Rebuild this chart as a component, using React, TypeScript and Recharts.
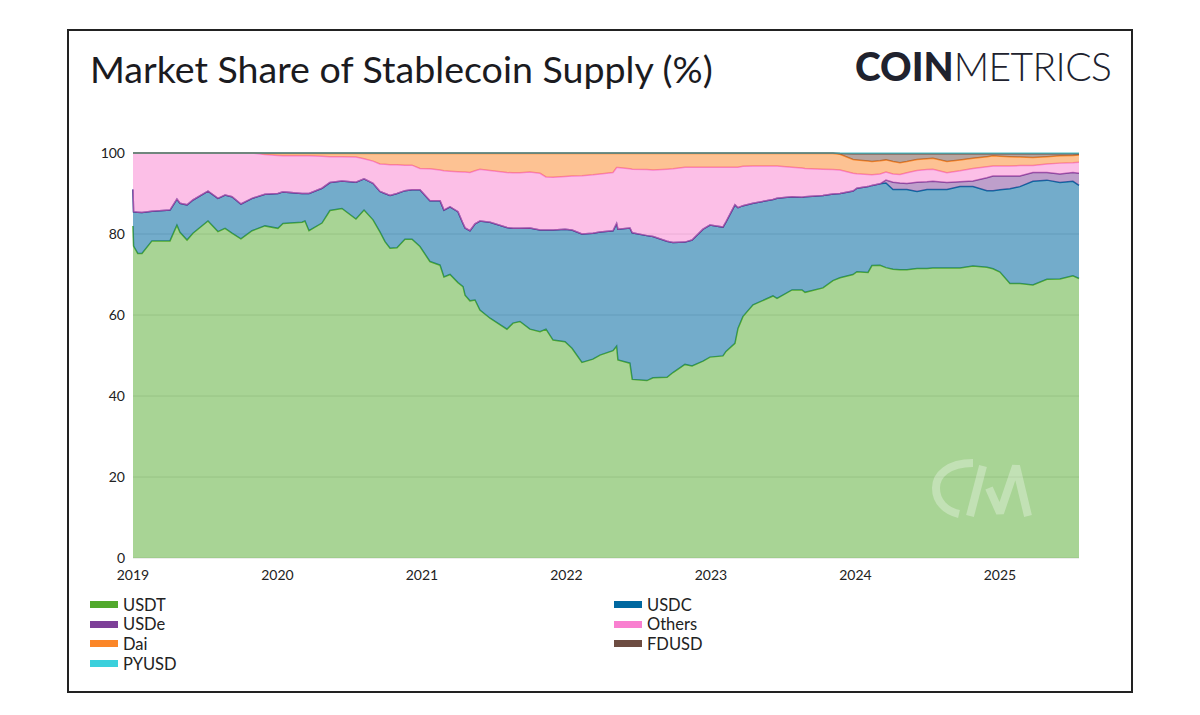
import React from "react";
import { Area, AreaChart, CartesianGrid, Legend, XAxis, YAxis } from "recharts";

const years = [
  2019.0, 2019.004, 2019.033, 2019.062, 2019.131, 2019.256, 2019.304, 2019.325, 2019.374, 2019.415, 2019.519, 2019.588, 2019.637, 2019.685, 2019.747, 2019.824, 2019.913,
  2020.003, 2020.038, 2020.17, 2020.19, 2020.218, 2020.308, 2020.363, 2020.446, 2020.543, 2020.599, 2020.661, 2020.709, 2020.744, 2020.779, 2020.827, 2020.882, 2020.931, 2020.986,
  2021.055, 2021.125, 2021.152, 2021.194, 2021.249, 2021.284, 2021.298, 2021.332, 2021.367, 2021.401, 2021.471, 2021.588, 2021.63, 2021.678, 2021.747, 2021.817, 2021.858, 2021.907, 2021.99,
  2022.038, 2022.107, 2022.183, 2022.232, 2022.322, 2022.347, 2022.356, 2022.439, 2022.455, 2022.557, 2022.599, 2022.696, 2022.737, 2022.82, 2022.869, 2022.945, 2022.993,
  2023.083, 2023.104, 2023.166, 2023.187, 2023.221, 2023.291, 2023.429, 2023.457, 2023.561, 2023.63, 2023.651, 2023.775, 2023.844, 2023.893, 2023.983,
  2024.01, 2024.087, 2024.114, 2024.17, 2024.211, 2024.26, 2024.308, 2024.356, 2024.426, 2024.495, 2024.536, 2024.633, 2024.723, 2024.813, 2024.91, 2024.952,
  2025.0, 2025.069, 2025.138, 2025.228, 2025.325, 2025.415, 2025.505, 2025.547,
];

const usdt = [
  82, 77, 75.2, 75.2, 78.3, 78.3, 82.2, 80.4, 78.5, 80.2, 83.2, 80.6, 81.4, 80.2, 78.8, 80.8, 82,
  81.4, 82.6, 82.9, 83.2, 80.8, 82.7, 85.8, 86.3, 83.7, 85.9, 83.5, 80.5, 78.1, 76.5, 76.6, 78.7, 78.7, 76.9,
  73.2, 72.3, 69.4, 70, 68, 67, 64.9, 63.5, 63.7, 61.2, 59.2, 56.5, 58, 58.4, 56.5, 55.9, 56.5, 53.8, 53.4,
  51.8, 48.3, 49.1, 50.1, 51.2, 52.3, 48.9, 48.1, 44.1, 43.8, 44.5, 44.6, 45.8, 47.8, 47.4, 48.6, 49.6,
  49.9, 51, 53, 56.7, 59.6, 62.5, 64.7, 64.1, 66.2, 66.2, 65.6, 66.7, 68.5, 69.2, 70,
  70.7, 70.5, 72.2, 72.3, 71.7, 71.3, 71.2, 71.2, 71.5, 71.5, 71.6, 71.6, 71.6, 72.1, 71.8, 71.4,
  70.6, 67.8, 67.8, 67.4, 68.8, 68.9, 69.7, 69,
];

const usdc = [
  9, 8.5, 10.2, 10.1, 7.3, 7.6, 6.4, 7.2, 8.7, 8.2, 7.4, 8.2, 8.2, 9, 8.6, 8, 7.8,
  8.6, 7.8, 7.1, 6.8, 9.2, 8.6, 6.9, 6.8, 9.1, 7.7, 9, 10, 11.9, 13, 13.4, 12, 12.2, 14,
  15, 15.9, 16.5, 16.7, 17.5, 15.6, 16.6, 17.3, 18.8, 22, 23.7, 25.1, 23.4, 23, 25, 25.1, 24.5, 27.2, 27.8,
  29.2, 31.7, 31.1, 30.4, 29.6, 30.3, 32.3, 33.4, 36.2, 35.8, 34.9, 33.6, 32.1, 30.2, 31.1, 32.6, 32.6,
  31.8, 32, 34.2, 29.8, 27.4, 25.1, 23.8, 24.7, 23, 22.9, 23.6, 22.8, 21.4, 20.8, 20.6,
  20.6, 21.2, 19.8, 20.1, 20.9, 19.7, 19.8, 19.8, 19, 19.5, 19.4, 19.4, 20.1, 19.6, 18.9, 19.3,
  20.3, 23.4, 23.9, 25.6, 24.5, 23.8, 23.3, 23,
];

const usde = [
  0, 0, 0, 0, 0, 0, 0, 0, 0, 0, 0, 0, 0, 0, 0, 0, 0,
  0, 0, 0, 0, 0, 0, 0, 0, 0, 0, 0, 0, 0, 0, 0, 0, 0, 0,
  0, 0, 0, 0, 0, 0, 0, 0, 0, 0, 0, 0, 0, 0, 0, 0, 0, 0, 0,
  0, 0, 0, 0, 0, 0, 0, 0, 0, 0, 0, 0, 0, 0, 0, 0, 0,
  0, 0, 0, 0, 0, 0, 0, 0, 0, 0, 0, 0, 0, 0, 0,
  0, 0, 0, 0, 0.7, 1.8, 1.6, 1.5, 2.3, 1.9, 2, 1.7, 1.2, 1.4, 3.2, 3.6,
  3.4, 3.1, 2.6, 2.2, 1.9, 2.1, 2.2, 3,
];

const others = [
  9, 14.5, 14.6, 14.7, 14.4, 14.1, 11.4, 12.4, 12.8, 11.6, 9.4, 11.2, 10.4, 10.8, 12.6, 11.2, 9.8,
  9.4, 8.9, 9.3, 9.3, 9.3, 7.9, 6.4, 6, 6.2, 5, 5.5, 6.8, 7.2, 7.6, 7.1, 6.3, 6.1, 5.3,
  7.9, 7.6, 9.7, 8.8, 9.9, 12.7, 13.8, 14.4, 13.1, 12.8, 12.8, 13.6, 13.7, 13.7, 13.8, 14, 13.1, 13, 13,
  13.3, 14.4, 14.4, 14.3, 14.4, 13.8, 15.2, 14.6, 15.7, 16.3, 16.4, 17.8, 18.2, 18.5, 18, 15.3, 14.3,
  14.8, 13.5, 9.3, 10, 9.7, 9.2, 8.3, 8, 7.3, 7.2, 7, 6.5, 6, 5.8, 4.4,
  3.6, 3, 2.6, 2.4, 2, 2, 2.1, 2.6, 2.9, 3, 3, 2.4, 2.7, 3.1, 2.7, 2.5,
  2.5, 2.5, 2.6, 1.7, 2.1, 2.7, 2.4, 2.7,
];

const dai = [
  0, 0, 0, 0, 0, 0, 0, 0, 0, 0, 0, 0, 0, 0, 0, 0, 0.3,
  0.5, 0.6, 0.6, 0.6, 0.6, 0.7, 0.8, 0.8, 0.9, 1.3, 1.9, 2.6, 2.7, 2.8, 2.8, 2.9, 2.9, 3.7,
  3.8, 4.1, 4.3, 4.4, 4.5, 4.6, 4.6, 4.7, 4.3, 3.9, 4.2, 4.7, 4.8, 4.8, 4.6, 4.9, 5.8, 5.9, 5.7,
  5.6, 5.5, 5.3, 5.1, 4.7, 3.5, 3.5, 3.8, 3.9, 4, 4.1, 3.9, 3.8, 3.4, 3.4, 3.4, 3.4,
  3.4, 3.4, 3.4, 3.4, 3.2, 3.1, 3.1, 3.1, 3.4, 3.6, 3.7, 3.9, 4, 3.9, 3.4,
  3.4, 3.3, 3.3, 3.3, 3, 3.1, 2.9, 2.8, 2.7, 2.7, 2.7, 2.8, 2.7, 2.5, 2.5, 2.5,
  2.4, 2.3, 2.1, 2, 1.8, 1.8, 1.8, 1.8,
];

const fdusd = [
  0, 0, 0, 0, 0, 0, 0, 0, 0, 0, 0, 0, 0, 0, 0, 0, 0.1,
  0.1, 0.1, 0.1, 0.1, 0.1, 0.1, 0.1, 0.1, 0.1, 0.1, 0.1, 0.1, 0.1, 0.1, 0.1, 0.1, 0.1, 0.1,
  0.1, 0.1, 0.1, 0.1, 0.1, 0.1, 0.1, 0.1, 0.1, 0.1, 0.1, 0.1, 0.1, 0.1, 0.1, 0.1, 0.1, 0.1, 0.1,
  0.1, 0.1, 0.1, 0.1, 0.1, 0.1, 0.1, 0.1, 0.1, 0.1, 0.1, 0.1, 0.1, 0.1, 0.1, 0.1, 0.1,
  0.1, 0.1, 0.1, 0.1, 0.1, 0.1, 0.1, 0.1, 0.1, 0.1, 0.1, 0.1, 0.1, 0.2, 1.4,
  1.5, 1.8, 1.9, 1.7, 1.5, 1.9, 2.2, 1.9, 1.4, 1.2, 1.1, 1.9, 1.5, 1.1, 0.7, 0.5,
  0.6, 0.7, 0.8, 0.9, 0.7, 0.5, 0.4, 0.3,
];

const pyusd = [
  0, 0, 0, 0, 0, 0, 0, 0, 0, 0, 0, 0, 0, 0, 0, 0, 0,
  0, 0, 0, 0, 0, 0, 0, 0, 0, 0, 0, 0, 0, 0, 0, 0, 0, 0,
  0, 0, 0, 0, 0, 0, 0, 0, 0, 0, 0, 0, 0, 0, 0, 0, 0, 0, 0,
  0, 0, 0, 0, 0, 0, 0, 0, 0, 0, 0, 0, 0, 0, 0, 0, 0,
  0, 0, 0, 0, 0, 0, 0, 0, 0, 0, 0, 0, 0, 0.1, 0.2,
  0.2, 0.2, 0.2, 0.2, 0.2, 0.2, 0.2, 0.2, 0.2, 0.2, 0.2, 0.2, 0.2, 0.2, 0.2, 0.2,
  0.2, 0.2, 0.2, 0.2, 0.2, 0.2, 0.2, 0.2,
];

const yearTicks = [2019, 2020, 2021, 2022, 2023, 2024, 2025];
const shareTicks = [0, 20, 40, 60, 80, 100];

const series = [
  { key: "USDT", values: usdt, color: "#51a92c", area: 0.5 },
  { key: "USDC", values: usdc, color: "#0068a0", area: 0.55 },
  { key: "USDe", values: usde, color: "#7d3f98", area: 0.5 },
  { key: "Others", values: others, color: "#f97fd0", area: 0.5 },
  { key: "Dai", values: dai, color: "#fb8628", area: 0.5 },
  { key: "FDUSD", values: fdusd, color: "#6d4c41", area: 0.5 },
  { key: "PYUSD", values: pyusd, color: "#3bd0dc", area: 0.5 },
];

const data = years.map((year, i) => {
  const row: Record<string, number> = { year };
  series.forEach((s) => {
    row[s.key] = s.values[i];
  });
  return row;
});

const font = "Lato, sans-serif";

function LegendRows({ payload }: any) {
  return (
    <div style={{ display: "grid", gridTemplateColumns: "524px 300px", gridAutoRows: "19.6px", fontFamily: font }}>
      {(payload || []).map((p: any) => (
        <div key={p.value} style={{ display: "flex", alignItems: "center", fontSize: 16.5, color: "#222" }}>
          <span style={{ width: 28, height: 7, background: p.color, marginRight: 5 }} />
          {p.value}
        </div>
      ))}
    </div>
  );
}

export default function App() {
  return (
    <div style={{ position: "fixed", left: 0, top: 0, width: 1200, height: 715, background: "#fff", overflow: "hidden" }}>
      <div style={{ position: "absolute", left: 67, top: 29, width: 1062, height: 660, border: "2px solid #222" }} />
      <div style={{ position: "absolute", left: 90, top: 46, fontFamily: font, fontSize: 37.6, color: "#1b1b1f", whiteSpace: "nowrap" }}>
        Market Share of Stablecoin Supply (%)
      </div>
      <div style={{ position: "absolute", left: 855, top: 43, fontFamily: font, fontSize: 39, color: "#20222e", whiteSpace: "nowrap" }}>
        <span style={{ fontWeight: 900 }}>COIN</span>
        <span style={{ fontWeight: 300, letterSpacing: -0.6 }}>METRICS</span>
      </div>
      <AreaChart
        width={1200}
        height={715}
        data={data}
        margin={{ top: 153, right: 121, bottom: 127, left: 0 }}
        style={{ position: "absolute", left: 0, top: 0 }}
      >
        <CartesianGrid horizontal vertical={false} stroke="#dcdcdc" strokeWidth={1} />
        <XAxis
          dataKey="year"
          type="number"
          domain={[2019, 2025.547]}
          ticks={yearTicks}
          tickLine={false}
          axisLine={false}
          height={30}
          tickMargin={6}
          interval={0}
          tick={{ fontFamily: font, fontSize: 14, fill: "#222" }}
        />
        <YAxis
          type="number"
          domain={[0, 100]}
          ticks={shareTicks}
          tickLine={false}
          axisLine={false}
          width={133}
          tickMargin={2}
          interval={0}
          tick={{ fontFamily: font, fontSize: 14, fill: "#222" }}
        />
        {series.map((s) => (
          <Area
            key={s.key}
            dataKey={s.key}
            stackId="share"
            type="linear"
            stroke={s.color}
            strokeWidth={1.5}
            strokeOpacity={s.key === "PYUSD" ? 0.5 : 1}
            fill={s.color}
            fillOpacity={s.area}
            isAnimationActive={false}
            dot={false}
            activeDot={false}
          />
        ))}
        <Legend
          layout="horizontal"
          verticalAlign="middle"
          align="center"
          itemSorter={null as any}
          content={<LegendRows />}
          wrapperStyle={{ position: "absolute", left: 90, top: 595, width: 830, height: 80 }}
        />
      </AreaChart>
      <svg width={1200} height={715} style={{ position: "absolute", left: 0, top: 0, pointerEvents: "none" }}>
        <g fill="none" stroke="#fff" strokeOpacity={0.3} strokeWidth={8} strokeLinejoin="bevel">
          <path d="M973 463 C948 463 936 475 936 488 C936 502 946 511 959 514" />
          <path d="M970 516 L983 466" />
          <path d="M989 488 L1000 513 L1016 466 L1028 516" />
        </g>
      </svg>
    </div>
  );
}
